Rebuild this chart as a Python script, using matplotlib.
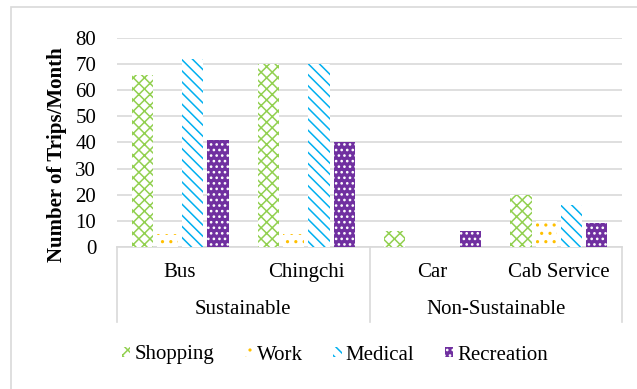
import numpy as np
import matplotlib.pyplot as plt
from matplotlib.patches import Rectangle

# trip counts per mode, grouped by sustainability
groups = ['Sustainable', 'Non-Sustainable']
modes = ['Bus', 'Chingchi', 'Car', 'Cab Service']
purposes = ['Shopping', 'Work', 'Medical', 'Recreation']

shopping = [66, 70, 6, 20]
work = [5, 5, 0, 10]
medical = [72, 70, 0, 16]
recreation = [41, 40, 6, 9]

plt.rcParams['font.family'] = ['Liberation Serif', 'DejaVu Serif']
plt.rcParams['hatch.linewidth'] = 1.1

W, H = 637, 389
fig = plt.figure(figsize=(W / 100, H / 100), dpi=100)
ax = fig.add_axes([117 / W, 1 - 247 / H, (622 - 117) / W, (247 - 38) / H])

styles = [
    dict(facecolor='white', edgecolor='#92D050', hatch='xxx'),
    dict(facecolor='white', edgecolor='#FFC000', hatch='..'),
    dict(facecolor='white', edgecolor='#00B0F0', hatch='\\\\\\'),
    dict(facecolor='#7030A0', edgecolor='white', hatch='...'),
]
series = [shopping, work, medical, recreation]

x = np.arange(len(modes))
step, width = 0.2, 0.167
for i, (vals, st) in enumerate(zip(series, styles)):
    ax.bar(x + (i - 1.5) * step, vals, width, linewidth=0, label=purposes[i], zorder=3, **st)

ax.set_xlim(-0.5, len(modes) - 0.5)
ax.set_ylim(0, 80)
ax.set_yticks(range(0, 81, 10))
ax.yaxis.grid(True, color='#D9D9D9', linewidth=1.2, zorder=0)
ax.set_axisbelow(True)
for s in ['top', 'right', 'left']:
    ax.spines[s].set_visible(False)
ax.spines['bottom'].set_color('#D9D9D9')
ax.spines['bottom'].set_linewidth(1.2)
ax.tick_params(axis='y', length=0, pad=15, labelsize=15)
ax.tick_params(axis='x', length=0, labelbottom=False)

# two-level category axis
trans = ax.get_xaxis_transform()
for m, xi in zip(modes, x):
    ax.text(xi, -0.12, m, transform=trans, ha='center', va='center', fontsize=15)
for g, xc in zip(groups, [0.5, 2.5]):
    ax.text(xc, -0.30, g, transform=trans, ha='center', va='center', fontsize=15)
for xs in [-0.5, 1.5, 3.5]:
    ax.plot([xs, xs], [0, -0.36], transform=trans, color='#D9D9D9',
            linewidth=1.2, clip_on=False)

fig.text(57 / W, 1 - 155 / H, 'Number of Trips/Month', rotation=90,
         ha='center', va='center', fontsize=15, fontweight='bold')

fig.legend(loc='center', bbox_to_anchor=(335 / W, 1 - 355 / H), ncol=4,
           frameon=False, fontsize=15, handlelength=0.4, handleheight=0.4,
           handletextpad=0.2, columnspacing=1.45)

# outer chart frame
fig.patches.append(Rectangle((11 / W, -0.1), 1.2, 1 - 7.5 / H + 0.1,
                             transform=fig.transFigure, fill=False,
                             edgecolor='#D9D9D9', linewidth=1.2))

fig.savefig('out.png', dpi=100)
